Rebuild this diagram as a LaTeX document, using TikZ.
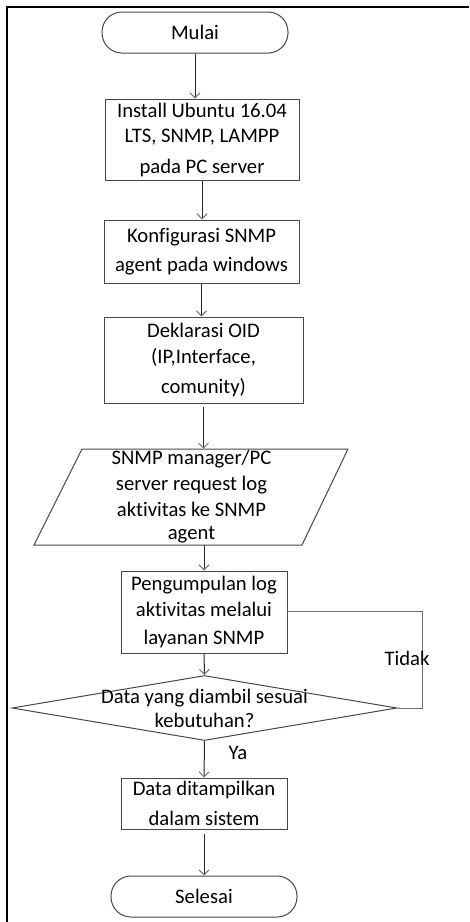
\documentclass[tikz,border=0pt]{standalone}
\usepackage{fontspec}
\setmainfont[Ligatures=NoCommon]{Carlito}
\usetikzlibrary{arrows.meta,shapes.geometric}
\def\u{0.75pt}
\definecolor{edgegray}{rgb}{0.28,0.28,0.28}
\definecolor{tipgray}{rgb}{0.45,0.45,0.45}
\begin{document}
\begin{tikzpicture}[x=0.75pt,y=-0.75pt,
  every node/.style={font=\fontsize{15.5}{19.5}\selectfont, align=center, inner sep=0pt},
  process/.style={draw=edgegray, line width=1*\u, rectangle},
  terminal/.style={draw=edgegray, line width=1*\u, rectangle, rounded corners=20*\u,
    minimum width=186*\u, minimum height=41*\u},
  flow/.style={draw=black!85, line width=1*\u,
    -{Straight Barb[length=5*\u, width=10*\u, color=tipgray, line width=1*\u]}},
  back/.style={draw=edgegray!80, line width=1*\u}]
\useasboundingbox (0,0) rectangle (469,922);
% frame edges
\draw[line width=2*\u] (6.5,922) -- (6.5,6.5) -- (469,6.5);

% steps of the flow
\node[terminal] (start) at (195,32.5) {Mulai};
\node[process, minimum width=194*\u, minimum height=81*\u] (install) at (202,139.5)
  {Install Ubuntu 16.04\\[-0.75pt]LTS, SNMP, LAMPP\\[3.75pt]pada PC server};
\node[process, minimum width=195*\u, minimum height=63*\u] (agent) at (201.5,251.5)
  {Konfigurasi SNMP\\[2.25pt]agent pada windows};
\node[process, minimum width=199*\u, minimum height=86*\u] (oid) at (203.5,360)
  {Deklarasi OID\\(IP,Interface,\\[3pt]comunity)};
\node[minimum width=266*\u, minimum height=96*\u] (request) at (191.5,497)
  {SNMP manager/PC\\server request log\\aktivitas ke SNMP\\[-2.25pt]agent};
\draw[edgegray, line width=1*\u] (82,449) -- (348,449) -- (302,545) -- (34,545) -- cycle;
\node[process, minimum width=166*\u, minimum height=82*\u] (collect) at (204,612)
  {Pengumpulan log\\aktivitas melalui\\[2pt]layanan SNMP};
\node[diamond, draw=edgegray, line width=1*\u, minimum width=385*\u, minimum height=65*\u]
  (check) at (204.5,708) {};
\node (checktext) at (204.5,708) {Data yang diambil sesuai\\[-1.5pt]kebutuhan?};
\node[process, minimum width=166*\u, minimum height=51*\u] (show) at (204,803.5)
  {Data ditampilkan\\[3pt]dalam sistem};
\node[terminal] (finish) at (204,896.5) {Selesai};

% connectors
\draw[flow] (start.south) -- (start.south |- install.north);
\draw[flow] (install.south) -- (install.south |- agent.north);
\draw[flow] (agent.south) -- (agent.south |- oid.north);
\draw[flow] (oid.south) ++(0,3) -- (oid.south |- request.north);
\draw[flow] (collect.north |- request.south) -- (collect.north);
\draw[flow] (collect.south) -- (check.north);
\draw[flow] (check.south) -- (show.north);
\draw[flow] (show.south) ++(0,4) -- (finish.north);
\coordinate (loopa) at (422,611);
\coordinate (loopb) at (422,708);
\draw[back] (collect.east |- loopa) -- (loopa) -- (loopb) -- (check.east);

% branch labels
\node (no) at (407,658) {Tidak};
\node (yes) at (238,753) {Ya};
\end{tikzpicture}
\end{document}
